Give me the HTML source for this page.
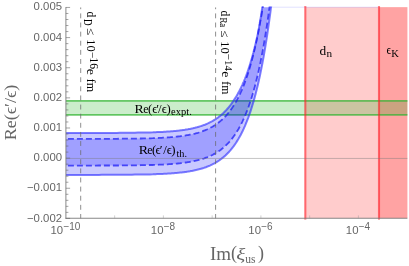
<!DOCTYPE html>
<html><head><meta charset="utf-8"><style>
html,body{margin:0;padding:0;background:#fff;}
body{width:409px;height:266px;overflow:hidden;}
svg{display:block;will-change:transform;}
text{font-family:"Liberation Sans",sans-serif;}
.se,.se text{font-family:"Liberation Serif",serif;}
</style></head><body>
<svg width="409" height="266" viewBox="0 0 409 266">
<rect width="409" height="266" fill="#fff"/>
<defs><clipPath id="cp"><rect x="65.90" y="7.15" width="341.50" height="211.05"/></clipPath>
<clipPath id="cp2"><rect x="65.90" y="6.55" width="341.50" height="211.85"/></clipPath></defs>
<!-- red regions -->
<rect x="305.30" y="7.15" width="102.10" height="211.05" fill="rgba(255,0,0,0.2)"/>
<rect x="379.00" y="7.15" width="28.40" height="211.05" fill="rgba(255,0,0,0.2)"/>
<!-- green band -->
<rect x="65.90" y="100.8" width="341.50" height="14.1" fill="rgba(0,165,0,0.205)"/>
<line x1="65.90" y1="100.8" x2="407.40" y2="100.8" stroke="rgba(50,180,50,0.72)" stroke-width="1.8"/>
<line x1="65.90" y1="114.8" x2="407.40" y2="114.8" stroke="rgba(50,180,50,0.72)" stroke-width="1.8"/>
<!-- blue bands -->
<g clip-path="url(#cp)">
<path d="M65.9,133.0 68.9,133.0 71.9,133.0 74.9,133.0 77.9,133.0 80.9,133.0 83.9,133.0 86.9,133.0 89.9,133.0 92.9,133.0 95.9,133.0 98.9,132.9 101.9,132.9 104.9,132.9 107.9,132.9 110.9,132.9 113.9,132.9 116.9,132.9 119.9,132.8 122.9,132.8 125.9,132.8 128.9,132.8 131.9,132.7 134.9,132.7 137.9,132.6 140.9,132.6 143.9,132.5 146.9,132.5 149.9,132.4 152.9,132.3 153.9,132.2 154.9,132.2 155.9,132.2 156.9,132.1 157.9,132.1 158.9,132.0 159.9,132.0 160.9,132.0 161.9,131.9 162.9,131.9 163.9,131.8 164.9,131.7 165.9,131.7 166.9,131.6 167.9,131.5 168.9,131.5 169.9,131.4 170.9,131.3 171.9,131.2 172.9,131.2 173.9,131.1 174.9,131.0 175.9,130.9 176.9,130.8 177.9,130.7 178.9,130.6 179.9,130.4 180.9,130.3 181.9,130.2 182.9,130.0 183.9,129.9 184.9,129.8 185.9,129.6 186.9,129.4 187.9,129.3 188.9,129.1 189.9,128.9 190.9,128.7 191.9,128.5 192.9,128.3 193.9,128.0 194.9,127.8 195.9,127.5 196.9,127.3 197.9,127.0 198.9,126.7 199.9,126.4 200.9,126.1 201.9,125.8 202.9,125.4 203.9,125.0 204.9,124.7 205.9,124.3 206.9,123.8 207.9,123.4 208.9,122.9 209.9,122.4 210.9,121.9 211.9,121.4 212.9,120.8 213.9,120.2 214.9,119.6 215.9,119.0 216.4,118.6 216.9,118.3 217.4,117.9 217.9,117.6 218.4,117.2 218.9,116.8 219.4,116.4 219.9,116.1 220.4,115.6 220.9,115.2 221.4,114.8 221.9,114.4 222.4,113.9 222.9,113.5 223.4,113.0 223.9,112.5 224.4,112.0 224.9,111.5 225.4,111.0 225.9,110.5 226.4,110.0 226.9,109.4 227.4,108.8 227.9,108.3 228.4,107.7 228.9,107.1 229.4,106.5 229.9,105.8 230.4,105.2 230.9,104.5 231.4,103.8 231.9,103.1 232.4,102.4 232.9,101.7 233.4,100.9 233.9,100.2 234.4,99.4 234.9,98.6 235.4,97.8 236.0,96.9 236.5,96.1 237.0,95.2 237.5,94.3 238.0,93.3 238.6,92.4 239.1,91.4 239.6,90.4 240.1,89.4 240.6,88.4 241.2,87.3 241.7,86.2 242.2,85.1 242.7,83.9 243.2,82.8 243.8,81.6 244.3,80.3 244.8,79.1 245.3,77.8 245.9,76.5 246.4,75.1 246.9,73.7 247.4,72.3 247.9,70.9 248.4,69.4 248.9,67.9 249.4,66.3 249.9,64.7 250.4,63.1 250.9,61.4 251.4,59.7 251.9,58.0 252.4,56.2 252.9,54.3 253.4,52.5 253.9,50.5 254.4,48.6 254.9,46.5 255.4,44.5 255.9,42.4 256.4,40.2 256.9,38.0 257.4,35.7 257.9,33.4 258.3,31.0 258.8,28.6 259.2,26.1 259.7,23.5 260.1,20.9 260.6,18.2 261.1,15.5 261.5,12.7 261.9,9.8 262.4,6.8 262.9,3.8 263.4,0.7 263.9,-2.4 264.4,-5.7 264.9,-9.0 265.4,-12.4 265.9,-15.8 266.4,-19.4 266.9,-23.0 L274.9,-26.5 274.4,-21.8 273.9,-17.2 273.4,-12.7 272.9,-8.4 272.4,-4.1 271.9,0.1 271.4,4.2 270.9,8.2 270.4,12.1 269.9,15.9 269.4,19.6 268.9,23.2 268.4,26.7 267.9,30.2 267.4,33.6 266.9,36.9 266.4,40.1 265.9,43.2 265.4,46.3 264.9,49.3 264.4,52.2 263.9,55.1 263.4,57.9 262.9,60.6 262.4,63.3 261.9,65.9 261.4,68.4 260.9,70.9 260.4,73.4 259.9,75.7 259.4,78.0 258.9,80.3 258.4,82.5 257.9,84.7 257.4,86.8 256.9,88.8 256.4,90.8 255.9,92.8 255.4,94.7 254.9,96.6 254.4,98.4 253.9,100.2 253.4,101.9 252.9,103.6 252.4,105.3 251.9,106.9 251.4,108.5 250.9,110.1 250.4,111.6 249.9,113.1 249.4,114.5 248.9,115.9 248.4,117.3 247.9,118.6 247.4,119.9 246.9,121.2 246.4,122.5 245.9,123.7 245.4,124.9 244.9,126.1 244.4,127.2 243.9,128.3 243.4,129.4 242.9,130.5 242.4,131.5 241.9,132.5 241.4,133.5 240.9,134.5 240.4,135.4 239.9,136.3 239.4,137.2 238.9,138.1 238.4,139.0 237.9,139.8 237.4,140.6 236.9,141.4 236.4,142.2 235.9,143.0 235.4,143.7 234.9,144.5 234.4,145.2 233.9,145.9 233.4,146.5 232.9,147.2 232.4,147.8 231.9,148.5 231.4,149.1 230.9,149.7 230.4,150.3 229.9,150.9 229.4,151.4 228.9,152.0 228.4,152.5 227.9,153.0 227.4,153.5 226.9,154.0 226.4,154.5 225.9,155.0 225.4,155.5 224.9,155.9 224.4,156.4 223.9,156.8 223.4,157.2 222.9,157.6 222.4,158.0 221.9,158.4 221.4,158.8 220.9,159.2 220.4,159.5 219.9,159.9 219.4,160.3 218.9,160.6 218.4,160.9 217.9,161.3 217.4,161.6 216.9,161.9 216.4,162.2 215.9,162.5 214.9,163.1 213.9,163.6 212.9,164.1 211.9,164.6 210.9,165.1 209.9,165.6 208.9,166.0 207.9,166.4 206.9,166.8 205.9,167.2 204.9,167.5 203.9,167.9 202.9,168.2 201.9,168.5 200.9,168.8 199.9,169.1 198.9,169.3 197.9,169.6 196.9,169.8 195.9,170.1 194.9,170.3 193.9,170.5 192.9,170.7 191.9,170.9 190.9,171.1 189.9,171.3 188.9,171.4 187.9,171.6 186.9,171.7 185.9,171.9 184.9,172.0 183.9,172.2 182.9,172.3 181.9,172.4 180.9,172.5 179.9,172.6 178.9,172.7 177.9,172.8 176.9,172.9 175.9,173.0 174.9,173.1 173.9,173.2 172.9,173.3 171.9,173.3 170.9,173.4 169.9,173.5 168.9,173.6 167.9,173.6 166.9,173.7 165.9,173.7 164.9,173.8 163.9,173.8 162.9,173.9 161.9,173.9 160.9,174.0 159.9,174.0 158.9,174.1 157.9,174.1 156.9,174.1 155.9,174.2 154.9,174.2 153.9,174.2 152.9,174.3 149.9,174.4 146.9,174.4 143.9,174.5 140.9,174.5 137.9,174.6 134.9,174.6 131.9,174.7 128.9,174.7 125.9,174.7 122.9,174.7 119.9,174.8 116.9,174.8 113.9,174.8 110.9,174.8 107.9,174.8 104.9,174.8 101.9,174.8 98.9,174.9 95.9,174.9 92.9,174.9 89.9,174.9 86.9,174.9 83.9,174.9 80.9,174.9 77.9,174.9 74.9,174.9 71.9,174.9 68.9,174.9 65.9,174.9 Z" fill="rgba(0,0,255,0.21)"/>
<path d="M65.9,138.9 68.9,138.9 71.9,138.9 74.9,138.9 77.9,138.9 80.9,138.9 83.9,138.9 86.9,138.9 89.9,138.9 92.9,138.9 95.9,138.9 98.9,138.8 101.9,138.8 104.9,138.8 107.9,138.8 110.9,138.8 113.9,138.8 116.9,138.8 119.9,138.7 122.9,138.7 125.9,138.7 128.9,138.7 131.9,138.6 134.9,138.6 137.9,138.5 140.9,138.5 143.9,138.4 146.9,138.3 149.9,138.3 152.9,138.2 153.9,138.1 154.9,138.1 155.9,138.1 156.9,138.0 157.9,138.0 158.9,137.9 159.9,137.9 160.9,137.8 161.9,137.8 162.9,137.7 163.9,137.7 164.9,137.6 165.9,137.5 166.9,137.5 167.9,137.4 168.9,137.3 169.9,137.3 170.9,137.2 171.9,137.1 172.9,137.0 173.9,136.9 174.9,136.8 175.9,136.7 176.9,136.6 177.9,136.5 178.9,136.4 179.9,136.3 180.9,136.1 181.9,136.0 182.9,135.9 183.9,135.7 184.9,135.6 185.9,135.4 186.9,135.2 187.9,135.1 188.9,134.9 189.9,134.7 190.9,134.5 191.9,134.3 192.9,134.0 193.9,133.8 194.9,133.6 195.9,133.3 196.9,133.0 197.9,132.8 198.9,132.5 199.9,132.1 200.9,131.8 201.9,131.5 202.9,131.1 203.9,130.7 204.9,130.3 205.9,129.9 206.9,129.5 207.9,129.0 208.9,128.6 209.9,128.1 210.9,127.5 211.9,127.0 212.9,126.4 213.9,125.8 214.9,125.2 215.9,124.5 216.4,124.2 216.9,123.8 217.4,123.5 217.9,123.1 218.4,122.7 218.9,122.3 219.4,121.9 219.9,121.5 220.4,121.1 220.9,120.7 221.4,120.2 221.9,119.8 222.4,119.3 222.9,118.9 223.4,118.4 223.9,117.9 224.4,117.4 224.9,116.9 225.4,116.4 225.9,115.8 226.4,115.3 226.9,114.7 227.4,114.1 227.9,113.5 228.4,112.9 228.9,112.3 229.4,111.7 229.9,111.0 230.4,110.4 230.9,109.7 231.4,109.0 231.9,108.3 232.4,107.5 232.9,106.8 233.4,106.0 233.9,105.2 234.4,104.4 234.9,103.6 235.4,102.8 235.9,101.9 236.4,101.0 236.9,100.1 237.4,99.2 237.9,98.2 238.4,97.3 238.9,96.3 239.4,95.2 239.9,94.2 240.4,93.1 240.9,92.0 241.4,90.9 241.9,89.8 242.4,88.6 242.9,87.4 243.4,86.2 243.9,84.9 244.4,83.6 244.9,82.3 245.4,80.9 245.9,79.5 246.4,78.1 246.9,76.7 247.4,75.2 247.9,73.7 248.4,72.1 248.9,70.5 249.4,68.9 249.9,67.2 250.4,65.5 250.9,63.7 251.4,61.9 251.9,60.1 252.4,58.2 252.9,56.3 253.4,54.3 253.9,52.3 254.4,50.2 254.9,48.1 255.4,45.9 255.9,43.7 256.4,41.4 256.9,39.1 257.4,36.7 257.9,34.3 258.4,31.8 258.9,29.2 259.4,26.6 259.9,23.9 260.4,21.2 260.9,18.4 261.4,15.5 261.9,12.5 262.4,9.5 262.9,6.4 263.4,3.2 263.9,0.0 264.4,-3.3 264.9,-6.7 265.4,-10.2 265.9,-13.8 266.4,-17.4 266.9,-21.1 267.4,-25.0 L273.4,-24.8 272.9,-20.3 272.4,-16.0 271.9,-11.7 271.4,-7.6 270.9,-3.6 270.4,0.4 269.9,4.3 269.4,8.0 268.9,11.7 268.4,15.3 267.9,18.8 267.4,22.2 266.9,25.6 266.4,28.8 265.9,32.0 265.4,35.1 264.9,38.2 264.4,41.2 263.9,44.1 263.4,46.9 262.9,49.7 262.4,52.4 261.9,55.0 261.4,57.6 260.9,60.1 260.4,62.6 259.9,65.0 259.4,67.3 258.9,69.6 258.4,71.9 257.9,74.1 257.4,76.2 256.9,78.3 256.4,80.3 255.9,82.3 255.4,84.3 254.9,86.2 254.4,88.0 253.9,89.8 253.4,91.6 252.9,93.3 252.4,95.0 251.9,96.7 251.4,98.3 250.9,99.8 250.4,101.4 249.9,102.9 249.4,104.3 248.9,105.8 248.4,107.2 247.9,108.5 247.4,109.9 246.9,111.2 246.4,112.4 245.9,113.7 245.4,114.9 244.9,116.1 244.4,117.2 243.9,118.3 243.4,119.4 242.9,120.5 242.4,121.6 241.9,122.6 241.4,123.6 240.9,124.6 240.4,125.5 239.9,126.5 239.4,127.4 238.9,128.3 238.4,129.2 237.9,130.0 237.4,130.8 236.9,131.6 236.4,132.4 235.9,133.2 235.4,134.0 234.9,134.7 234.4,135.4 233.9,136.1 233.4,136.8 232.9,137.5 232.4,138.2 231.9,138.8 231.4,139.4 230.9,140.0 230.4,140.6 229.9,141.2 229.4,141.8 228.9,142.3 228.4,142.9 227.9,143.4 227.4,143.9 226.9,144.4 226.4,144.9 225.9,145.4 225.4,145.9 224.9,146.3 224.4,146.8 223.9,147.2 223.4,147.7 222.9,148.1 222.4,148.5 221.9,148.9 221.4,149.3 220.9,149.7 220.4,150.0 219.9,150.4 219.4,150.7 218.9,151.1 218.4,151.4 217.9,151.8 217.4,152.1 216.9,152.4 216.4,152.7 215.9,153.0 214.9,153.6 213.9,154.1 212.9,154.7 211.9,155.2 210.9,155.7 209.9,156.1 208.9,156.6 207.9,157.0 206.9,157.4 205.9,157.7 204.9,158.1 203.9,158.5 202.9,158.8 201.9,159.1 200.9,159.4 199.9,159.7 198.9,160.0 197.9,160.2 196.9,160.5 195.9,160.7 194.9,160.9 193.9,161.1 192.9,161.4 191.9,161.5 190.9,161.7 189.9,161.9 188.9,162.1 187.9,162.2 186.9,162.4 185.9,162.5 184.9,162.7 183.9,162.8 182.9,163.0 181.9,163.1 180.9,163.2 179.9,163.3 178.9,163.4 177.9,163.5 176.9,163.6 175.9,163.7 174.9,163.8 173.9,163.9 172.9,163.9 171.9,164.0 170.9,164.1 169.9,164.2 168.9,164.2 167.9,164.3 166.9,164.4 165.9,164.4 164.9,164.5 163.9,164.5 162.9,164.6 161.9,164.6 160.9,164.7 159.9,164.7 158.9,164.7 157.9,164.8 156.9,164.8 155.9,164.9 154.9,164.9 153.9,164.9 152.9,165.0 149.9,165.0 146.9,165.1 143.9,165.2 140.9,165.2 137.9,165.3 134.9,165.3 131.9,165.4 128.9,165.4 125.9,165.4 122.9,165.4 119.9,165.5 116.9,165.5 113.9,165.5 110.9,165.5 107.9,165.5 104.9,165.5 101.9,165.5 98.9,165.5 95.9,165.6 92.9,165.6 89.9,165.6 86.9,165.6 83.9,165.6 80.9,165.6 77.9,165.6 74.9,165.6 71.9,165.6 68.9,165.6 65.9,165.6 Z" fill="rgba(0,0,255,0.20)"/>
</g>
<g clip-path="url(#cp2)" fill="none">
<path d="M65.9,133.0 68.9,133.0 71.9,133.0 74.9,133.0 77.9,133.0 80.9,133.0 83.9,133.0 86.9,133.0 89.9,133.0 92.9,133.0 95.9,133.0 98.9,132.9 101.9,132.9 104.9,132.9 107.9,132.9 110.9,132.9 113.9,132.9 116.9,132.9 119.9,132.8 122.9,132.8 125.9,132.8 128.9,132.8 131.9,132.7 134.9,132.7 137.9,132.6 140.9,132.6 143.9,132.5 146.9,132.5 149.9,132.4 152.9,132.3 153.9,132.2 154.9,132.2 155.9,132.2 156.9,132.1 157.9,132.1 158.9,132.0 159.9,132.0 160.9,132.0 161.9,131.9 162.9,131.9 163.9,131.8 164.9,131.7 165.9,131.7 166.9,131.6 167.9,131.5 168.9,131.5 169.9,131.4 170.9,131.3 171.9,131.2 172.9,131.2 173.9,131.1 174.9,131.0 175.9,130.9 176.9,130.8 177.9,130.7 178.9,130.6 179.9,130.4 180.9,130.3 181.9,130.2 182.9,130.0 183.9,129.9 184.9,129.8 185.9,129.6 186.9,129.4 187.9,129.3 188.9,129.1 189.9,128.9 190.9,128.7 191.9,128.5 192.9,128.3 193.9,128.0 194.9,127.8 195.9,127.5 196.9,127.3 197.9,127.0 198.9,126.7 199.9,126.4 200.9,126.1 201.9,125.8 202.9,125.4 203.9,125.0 204.9,124.7 205.9,124.3 206.9,123.8 207.9,123.4 208.9,122.9 209.9,122.4 210.9,121.9 211.9,121.4 212.9,120.8 213.9,120.2 214.9,119.6 215.9,119.0 216.4,118.6 216.9,118.3 217.4,117.9 217.9,117.6 218.4,117.2 218.9,116.8 219.4,116.4 219.9,116.1 220.4,115.6 220.9,115.2 221.4,114.8 221.9,114.4 222.4,113.9 222.9,113.5 223.4,113.0 223.9,112.5 224.4,112.0 224.9,111.5 225.4,111.0 225.9,110.5 226.4,110.0 226.9,109.4 227.4,108.8 227.9,108.3 228.4,107.7 228.9,107.1 229.4,106.5 229.9,105.8 230.4,105.2 230.9,104.5 231.4,103.8 231.9,103.1 232.4,102.4 232.9,101.7 233.4,100.9 233.9,100.2 234.4,99.4 234.9,98.6 235.4,97.8 236.0,96.9 236.5,96.1 237.0,95.2 237.5,94.3 238.0,93.3 238.6,92.4 239.1,91.4 239.6,90.4 240.1,89.4 240.6,88.4 241.2,87.3 241.7,86.2 242.2,85.1 242.7,83.9 243.2,82.8 243.8,81.6 244.3,80.3 244.8,79.1 245.3,77.8 245.9,76.5 246.4,75.1 246.9,73.7 247.4,72.3 247.9,70.9 248.4,69.4 248.9,67.9 249.4,66.3 249.9,64.7 250.4,63.1 250.9,61.4 251.4,59.7 251.9,58.0 252.4,56.2 252.9,54.3 253.4,52.5 253.9,50.5 254.4,48.6 254.9,46.5 255.4,44.5 255.9,42.4 256.4,40.2 256.9,38.0 257.4,35.7 257.9,33.4 258.3,31.0 258.8,28.6 259.2,26.1 259.7,23.5 260.1,20.9 260.6,18.2 261.1,15.5 261.5,12.7 261.9,9.8 262.4,6.8 262.9,3.8 263.4,0.7 263.9,-2.4 264.4,-5.7 264.9,-9.0 265.4,-12.4 265.9,-15.8 266.4,-19.4 266.9,-23.0" stroke="rgba(45,45,255,0.62)" stroke-width="2"/>
<path d="M65.9,174.9 68.9,174.9 71.9,174.9 74.9,174.9 77.9,174.9 80.9,174.9 83.9,174.9 86.9,174.9 89.9,174.9 92.9,174.9 95.9,174.9 98.9,174.9 101.9,174.8 104.9,174.8 107.9,174.8 110.9,174.8 113.9,174.8 116.9,174.8 119.9,174.8 122.9,174.7 125.9,174.7 128.9,174.7 131.9,174.7 134.9,174.6 137.9,174.6 140.9,174.5 143.9,174.5 146.9,174.4 149.9,174.4 152.9,174.3 153.9,174.2 154.9,174.2 155.9,174.2 156.9,174.1 157.9,174.1 158.9,174.1 159.9,174.0 160.9,174.0 161.9,173.9 162.9,173.9 163.9,173.8 164.9,173.8 165.9,173.7 166.9,173.7 167.9,173.6 168.9,173.6 169.9,173.5 170.9,173.4 171.9,173.3 172.9,173.3 173.9,173.2 174.9,173.1 175.9,173.0 176.9,172.9 177.9,172.8 178.9,172.7 179.9,172.6 180.9,172.5 181.9,172.4 182.9,172.3 183.9,172.2 184.9,172.0 185.9,171.9 186.9,171.7 187.9,171.6 188.9,171.4 189.9,171.3 190.9,171.1 191.9,170.9 192.9,170.7 193.9,170.5 194.9,170.3 195.9,170.1 196.9,169.8 197.9,169.6 198.9,169.3 199.9,169.1 200.9,168.8 201.9,168.5 202.9,168.2 203.9,167.9 204.9,167.5 205.9,167.2 206.9,166.8 207.9,166.4 208.9,166.0 209.9,165.6 210.9,165.1 211.9,164.6 212.9,164.1 213.9,163.6 214.9,163.1 215.9,162.5 216.4,162.2 216.9,161.9 217.4,161.6 217.9,161.3 218.4,160.9 218.9,160.6 219.4,160.3 219.9,159.9 220.4,159.5 220.9,159.2 221.4,158.8 221.9,158.4 222.4,158.0 222.9,157.6 223.4,157.2 223.9,156.8 224.4,156.4 224.9,155.9 225.4,155.5 225.9,155.0 226.4,154.5 226.9,154.0 227.4,153.5 227.9,153.0 228.4,152.5 228.9,152.0 229.4,151.4 229.9,150.9 230.4,150.3 230.9,149.7 231.4,149.1 231.9,148.5 232.4,147.8 232.9,147.2 233.4,146.5 233.9,145.9 234.4,145.2 234.9,144.5 235.4,143.7 235.9,143.0 236.4,142.2 236.9,141.4 237.4,140.6 237.9,139.8 238.4,139.0 238.9,138.1 239.4,137.2 239.9,136.3 240.4,135.4 240.9,134.5 241.4,133.5 241.9,132.5 242.4,131.5 242.9,130.5 243.4,129.4 243.9,128.3 244.4,127.2 244.9,126.1 245.4,124.9 245.9,123.7 246.4,122.5 246.9,121.2 247.4,119.9 247.9,118.6 248.4,117.3 248.9,115.9 249.4,114.5 249.9,113.1 250.4,111.6 250.9,110.1 251.4,108.5 251.9,106.9 252.4,105.3 252.9,103.6 253.4,101.9 253.9,100.2 254.4,98.4 254.9,96.6 255.4,94.7 255.9,92.8 256.4,90.8 256.9,88.8 257.4,86.8 257.9,84.7 258.4,82.5 258.9,80.3 259.4,78.0 259.9,75.7 260.4,73.4 260.9,70.9 261.4,68.4 261.9,65.9 262.4,63.3 262.9,60.6 263.4,57.9 263.9,55.1 264.4,52.2 264.9,49.3 265.4,46.3 265.9,43.2 266.4,40.1 266.9,36.9 267.4,33.6 267.9,30.2 268.4,26.7 268.9,23.2 269.4,19.6 269.9,15.9 270.4,12.1 270.9,8.2 271.4,4.2 271.9,0.1 272.4,-4.1 272.9,-8.4 273.4,-12.7 273.9,-17.2 274.4,-21.8 274.9,-26.5" stroke="rgba(45,45,255,0.62)" stroke-width="2"/>
<path d="M65.9,138.9 68.9,138.9 71.9,138.9 74.9,138.9 77.9,138.9 80.9,138.9 83.9,138.9 86.9,138.9 89.9,138.9 92.9,138.9 95.9,138.9 98.9,138.8 101.9,138.8 104.9,138.8 107.9,138.8 110.9,138.8 113.9,138.8 116.9,138.8 119.9,138.7 122.9,138.7 125.9,138.7 128.9,138.7 131.9,138.6 134.9,138.6 137.9,138.5 140.9,138.5 143.9,138.4 146.9,138.3 149.9,138.3 152.9,138.2 153.9,138.1 154.9,138.1 155.9,138.1 156.9,138.0 157.9,138.0 158.9,137.9 159.9,137.9 160.9,137.8 161.9,137.8 162.9,137.7 163.9,137.7 164.9,137.6 165.9,137.5 166.9,137.5 167.9,137.4 168.9,137.3 169.9,137.3 170.9,137.2 171.9,137.1 172.9,137.0 173.9,136.9 174.9,136.8 175.9,136.7 176.9,136.6 177.9,136.5 178.9,136.4 179.9,136.3 180.9,136.1 181.9,136.0 182.9,135.9 183.9,135.7 184.9,135.6 185.9,135.4 186.9,135.2 187.9,135.1 188.9,134.9 189.9,134.7 190.9,134.5 191.9,134.3 192.9,134.0 193.9,133.8 194.9,133.6 195.9,133.3 196.9,133.0 197.9,132.8 198.9,132.5 199.9,132.1 200.9,131.8 201.9,131.5 202.9,131.1 203.9,130.7 204.9,130.3 205.9,129.9 206.9,129.5 207.9,129.0 208.9,128.6 209.9,128.1 210.9,127.5 211.9,127.0 212.9,126.4 213.9,125.8 214.9,125.2 215.9,124.5 216.4,124.2 216.9,123.8 217.4,123.5 217.9,123.1 218.4,122.7 218.9,122.3 219.4,121.9 219.9,121.5 220.4,121.1 220.9,120.7 221.4,120.2 221.9,119.8 222.4,119.3 222.9,118.9 223.4,118.4 223.9,117.9 224.4,117.4 224.9,116.9 225.4,116.4 225.9,115.8 226.4,115.3 226.9,114.7 227.4,114.1 227.9,113.5 228.4,112.9 228.9,112.3 229.4,111.7 229.9,111.0 230.4,110.4 230.9,109.7 231.4,109.0 231.9,108.3 232.4,107.5 232.9,106.8 233.4,106.0 233.9,105.2 234.4,104.4 234.9,103.6 235.4,102.8 235.9,101.9 236.4,101.0 236.9,100.1 237.4,99.2 237.9,98.2 238.4,97.3 238.9,96.3 239.4,95.2 239.9,94.2 240.4,93.1 240.9,92.0 241.4,90.9 241.9,89.8 242.4,88.6 242.9,87.4 243.4,86.2 243.9,84.9 244.4,83.6 244.9,82.3 245.4,80.9 245.9,79.5 246.4,78.1 246.9,76.7 247.4,75.2 247.9,73.7 248.4,72.1 248.9,70.5 249.4,68.9 249.9,67.2 250.4,65.5 250.9,63.7 251.4,61.9 251.9,60.1 252.4,58.2 252.9,56.3 253.4,54.3 253.9,52.3 254.4,50.2 254.9,48.1 255.4,45.9 255.9,43.7 256.4,41.4 256.9,39.1 257.4,36.7 257.9,34.3 258.4,31.8 258.9,29.2 259.4,26.6 259.9,23.9 260.4,21.2 260.9,18.4 261.4,15.5 261.9,12.5 262.4,9.5 262.9,6.4 263.4,3.2 263.9,0.0 264.4,-3.3 264.9,-6.7 265.4,-10.2 265.9,-13.8 266.4,-17.4 266.9,-21.1 267.4,-25.0" stroke="rgba(30,30,245,0.74)" stroke-width="1.8" stroke-dasharray="6 3" stroke-dashoffset="7"/>
<path d="M65.9,165.6 68.9,165.6 71.9,165.6 74.9,165.6 77.9,165.6 80.9,165.6 83.9,165.6 86.9,165.6 89.9,165.6 92.9,165.6 95.9,165.6 98.9,165.5 101.9,165.5 104.9,165.5 107.9,165.5 110.9,165.5 113.9,165.5 116.9,165.5 119.9,165.5 122.9,165.4 125.9,165.4 128.9,165.4 131.9,165.4 134.9,165.3 137.9,165.3 140.9,165.2 143.9,165.2 146.9,165.1 149.9,165.0 152.9,165.0 153.9,164.9 154.9,164.9 155.9,164.9 156.9,164.8 157.9,164.8 158.9,164.7 159.9,164.7 160.9,164.7 161.9,164.6 162.9,164.6 163.9,164.5 164.9,164.5 165.9,164.4 166.9,164.4 167.9,164.3 168.9,164.2 169.9,164.2 170.9,164.1 171.9,164.0 172.9,163.9 173.9,163.9 174.9,163.8 175.9,163.7 176.9,163.6 177.9,163.5 178.9,163.4 179.9,163.3 180.9,163.2 181.9,163.1 182.9,163.0 183.9,162.8 184.9,162.7 185.9,162.5 186.9,162.4 187.9,162.2 188.9,162.1 189.9,161.9 190.9,161.7 191.9,161.5 192.9,161.4 193.9,161.1 194.9,160.9 195.9,160.7 196.9,160.5 197.9,160.2 198.9,160.0 199.9,159.7 200.9,159.4 201.9,159.1 202.9,158.8 203.9,158.5 204.9,158.1 205.9,157.7 206.9,157.4 207.9,157.0 208.9,156.6 209.9,156.1 210.9,155.7 211.9,155.2 212.9,154.7 213.9,154.1 214.9,153.6 215.9,153.0 216.4,152.7 216.9,152.4 217.4,152.1 217.9,151.8 218.4,151.4 218.9,151.1 219.4,150.7 219.9,150.4 220.4,150.0 220.9,149.7 221.4,149.3 221.9,148.9 222.4,148.5 222.9,148.1 223.4,147.7 223.9,147.2 224.4,146.8 224.9,146.3 225.4,145.9 225.9,145.4 226.4,144.9 226.9,144.4 227.4,143.9 227.9,143.4 228.4,142.9 228.9,142.3 229.4,141.8 229.9,141.2 230.4,140.6 230.9,140.0 231.4,139.4 231.9,138.8 232.4,138.2 232.9,137.5 233.4,136.8 233.9,136.1 234.4,135.4 234.9,134.7 235.4,134.0 235.9,133.2 236.4,132.4 236.9,131.6 237.4,130.8 237.9,130.0 238.4,129.2 238.9,128.3 239.4,127.4 239.9,126.5 240.4,125.5 240.9,124.6 241.4,123.6 241.9,122.6 242.4,121.6 242.9,120.5 243.4,119.4 243.9,118.3 244.4,117.2 244.9,116.1 245.4,114.9 245.9,113.7 246.4,112.4 246.9,111.2 247.4,109.9 247.9,108.5 248.4,107.2 248.9,105.8 249.4,104.3 249.9,102.9 250.4,101.4 250.9,99.8 251.4,98.3 251.9,96.7 252.4,95.0 252.9,93.3 253.4,91.6 253.9,89.8 254.4,88.0 254.9,86.2 255.4,84.3 255.9,82.3 256.4,80.3 256.9,78.3 257.4,76.2 257.9,74.1 258.4,71.9 258.9,69.6 259.4,67.3 259.9,65.0 260.4,62.6 260.9,60.1 261.4,57.6 261.9,55.0 262.4,52.4 262.9,49.7 263.4,46.9 263.9,44.1 264.4,41.2 264.9,38.2 265.4,35.1 265.9,32.0 266.4,28.8 266.9,25.6 267.4,22.2 267.9,18.8 268.4,15.3 268.9,11.7 269.4,8.0 269.9,4.3 270.4,0.4 270.9,-3.6 271.4,-7.6 271.9,-11.7 272.4,-16.0 272.9,-20.3 273.4,-24.8" stroke="rgba(30,30,245,0.74)" stroke-width="1.8" stroke-dasharray="6 3" stroke-dashoffset="7"/>
</g>
<line x1="271" y1="7.2" x2="378" y2="7.2" stroke="rgba(0,0,255,0.12)" stroke-width="1"/>
<!-- red lines -->
<line x1="305.30" y1="6.1" x2="305.30" y2="219.6" stroke="rgba(255,30,40,0.62)" stroke-width="2.1"/>
<line x1="379.00" y1="6.1" x2="379.00" y2="219.6" stroke="rgba(255,30,40,0.62)" stroke-width="2.1"/>
<!-- zero line -->
<line x1="65.90" y1="158.43" x2="407.40" y2="158.43" stroke="rgba(120,120,120,0.55)" stroke-width="0.8"/>
<!-- dashed verticals -->
<line x1="80.7" y1="7.45" x2="80.7" y2="218.40" stroke="#6a6a6a" stroke-width="0.75" stroke-dasharray="4.9 4.217" stroke-dashoffset="3.15"/>
<line x1="215.6" y1="7.45" x2="215.6" y2="218.40" stroke="#6a6a6a" stroke-width="0.75" stroke-dasharray="4.9 4.217" stroke-dashoffset="3.15"/>
<!-- axes -->
<g stroke="#7a7a7a" stroke-width="0.9" fill="none">
<line x1="65.90" y1="7.15" x2="65.90" y2="218.70"/>
<line x1="65.45" y1="218.25" x2="407.40" y2="218.25"/>
</g>
<g stroke="#666" stroke-width="0.6"><line x1="65.90" y1="218.40" x2="70.10" y2="218.40"/><line x1="65.90" y1="212.37" x2="68.40" y2="212.37"/><line x1="65.90" y1="206.35" x2="68.40" y2="206.35"/><line x1="65.90" y1="200.32" x2="68.40" y2="200.32"/><line x1="65.90" y1="194.29" x2="68.40" y2="194.29"/><line x1="65.90" y1="188.26" x2="70.10" y2="188.26"/><line x1="65.90" y1="182.24" x2="68.40" y2="182.24"/><line x1="65.90" y1="176.21" x2="68.40" y2="176.21"/><line x1="65.90" y1="170.18" x2="68.40" y2="170.18"/><line x1="65.90" y1="164.16" x2="68.40" y2="164.16"/><line x1="65.90" y1="158.13" x2="70.10" y2="158.13"/><line x1="65.90" y1="152.10" x2="68.40" y2="152.10"/><line x1="65.90" y1="146.07" x2="68.40" y2="146.07"/><line x1="65.90" y1="140.05" x2="68.40" y2="140.05"/><line x1="65.90" y1="134.02" x2="68.40" y2="134.02"/><line x1="65.90" y1="127.99" x2="70.10" y2="127.99"/><line x1="65.90" y1="121.97" x2="68.40" y2="121.97"/><line x1="65.90" y1="115.94" x2="68.40" y2="115.94"/><line x1="65.90" y1="109.91" x2="68.40" y2="109.91"/><line x1="65.90" y1="103.88" x2="68.40" y2="103.88"/><line x1="65.90" y1="97.86" x2="70.10" y2="97.86"/><line x1="65.90" y1="91.83" x2="68.40" y2="91.83"/><line x1="65.90" y1="85.80" x2="68.40" y2="85.80"/><line x1="65.90" y1="79.78" x2="68.40" y2="79.78"/><line x1="65.90" y1="73.75" x2="68.40" y2="73.75"/><line x1="65.90" y1="67.72" x2="70.10" y2="67.72"/><line x1="65.90" y1="61.69" x2="68.40" y2="61.69"/><line x1="65.90" y1="55.67" x2="68.40" y2="55.67"/><line x1="65.90" y1="49.64" x2="68.40" y2="49.64"/><line x1="65.90" y1="43.61" x2="68.40" y2="43.61"/><line x1="65.90" y1="37.59" x2="70.10" y2="37.59"/><line x1="65.90" y1="31.56" x2="68.40" y2="31.56"/><line x1="65.90" y1="25.53" x2="68.40" y2="25.53"/><line x1="65.90" y1="19.50" x2="68.40" y2="19.50"/><line x1="65.90" y1="13.48" x2="68.40" y2="13.48"/><line x1="65.90" y1="7.45" x2="70.10" y2="7.45"/></g>
<g stroke="#999" stroke-width="0.45"><line x1="114.65" y1="218.40" x2="114.65" y2="215.40"/><line x1="163.40" y1="218.40" x2="163.40" y2="215.40"/><line x1="212.15" y1="218.40" x2="212.15" y2="215.40"/><line x1="260.90" y1="218.40" x2="260.90" y2="215.40"/><line x1="309.65" y1="218.40" x2="309.65" y2="215.40"/><line x1="358.40" y1="218.40" x2="358.40" y2="215.40"/></g>
<g font-size="11.35" fill="#666"><text x="62.0" y="222" text-anchor="end">&#8722;0.002</text><text x="62.0" y="191" text-anchor="end">&#8722;0.001</text><text x="62.0" y="161" text-anchor="end">0.000</text><text x="62.0" y="131" text-anchor="end">0.001</text><text x="62.0" y="101" text-anchor="end">0.002</text><text x="62.0" y="71" text-anchor="end">0.003</text><text x="62.0" y="41" text-anchor="end">0.004</text><text x="62.0" y="10" text-anchor="end">0.005</text><text x="50.56" y="234.4">10</text><text x="63.48" y="230" font-size="10.0">&#8722;10</text><text x="150.84" y="234.4">10</text><text x="163.76" y="230" font-size="10.0">&#8722;8</text><text x="248.34" y="234.4">10</text><text x="261.26" y="230" font-size="10.0">&#8722;6</text><text x="345.84" y="234.4">10</text><text x="358.76" y="230" font-size="10.0">&#8722;4</text></g>
<!-- axis labels -->
<g class="se" fill="#666">
<text transform="translate(209.91,259.70) scale(1.000,1)" font-size="19.00">Im</text><text transform="translate(231.11,259.30) scale(1.000,1)" font-size="18.00">(</text><text transform="translate(257.92,259.30) scale(1.000,1)" font-size="18.00">)</text>
<text transform="translate(236.2,259.5) scale(1.2,1)" font-size="17.6" font-style="italic">&#958;</text>
<text transform="translate(245.2,263.0) scale(0.92,1)" font-size="12.6">us</text>
<text transform="translate(15.7,140.2) rotate(-90) scale(1.06,1)" font-size="17">Re(&#1013;&#8242;/&#1013;)</text>
</g>
<!-- in-plot labels -->
<g class="se" fill="#000">
<text transform="translate(134.60,112.70) scale(1.080,1)" font-size="12.80">R</text><text transform="translate(143.34,112.70) scale(0.930,1)" font-size="12.80">e</text><text transform="translate(148.04,112.70) scale(1.000,1)" font-size="12.80">(</text><text transform="translate(152.21,112.70) scale(1.000,1)" font-size="12.80">&#1013;</text><text transform="translate(156.27,112.70) scale(1.000,1)" font-size="12.80">&#8242;</text><text transform="translate(158.10,112.70) scale(1.000,1)" font-size="12.80">/</text><text transform="translate(161.81,112.70) scale(1.000,1)" font-size="12.80">&#1013;</text><text transform="translate(166.59,112.70) scale(1.000,1)" font-size="12.80">)</text><text transform="translate(171.09,115.10) scale(1.050,1)" font-size="10.00">expt.</text>
<text transform="translate(138.80,154.00) scale(1.080,1)" font-size="12.80">R</text><text transform="translate(147.23,154.00) scale(0.930,1)" font-size="12.80">e</text><text transform="translate(152.04,154.00) scale(1.000,1)" font-size="12.80">(</text><text transform="translate(155.61,154.00) scale(1.000,1)" font-size="12.80">&#1013;</text><text transform="translate(159.87,154.00) scale(1.000,1)" font-size="12.80">&#8242;</text><text transform="translate(163.20,154.00) scale(1.000,1)" font-size="12.80">/</text><text transform="translate(166.81,154.00) scale(1.000,1)" font-size="12.80">&#1013;</text><text transform="translate(171.19,154.00) scale(1.000,1)" font-size="12.80">)</text><text transform="translate(176.40,157.00) scale(1.050,1)" font-size="9.80">th.</text>
<text transform="translate(319.42,54.50) scale(1.000,1)" font-size="13.40">d</text><text transform="translate(326.44,57.10) scale(1.100,1)" font-size="10.20">n</text>
<text transform="translate(386.56,54.10) scale(1.000,1)" font-size="11.50">&#1013;</text><text transform="translate(391.20,57.10) scale(1.000,1)" font-size="10.50">K</text>
<text transform="translate(87.10,11.57) rotate(90) scale(0.920,1)" font-size="12.80">d</text><text transform="translate(84.30,18.92) rotate(90) scale(0.790,1)" font-size="11.50">D</text><text transform="translate(87.10,28.07) rotate(90) scale(1.150,1)" font-size="11.50">&#8804;</text><text transform="translate(87.10,39.24) rotate(90) scale(1.000,1)" font-size="12.50">10</text><text transform="translate(89.18,51.64) rotate(90) scale(1.000,1)" font-size="11.20">&#8722;</text><text transform="translate(90.30,57.56) rotate(90) scale(1.000,1)" font-size="11.60">16</text><text transform="translate(87.10,68.86) rotate(90) scale(1.120,1)" font-size="12.50">e</text><text transform="translate(87.10,78.63) rotate(90) scale(0.940,1)" font-size="12.80">fm</text>
<text transform="translate(221.40,10.42) rotate(90) scale(0.920,1)" font-size="12.80">d</text><text transform="translate(219.50,17.39) rotate(90) scale(0.880,1)" font-size="10.20">Ra</text><text transform="translate(221.40,30.37) rotate(90) scale(1.150,1)" font-size="11.50">&#8804;</text><text transform="translate(221.40,41.14) rotate(90) scale(1.000,1)" font-size="12.60">10</text><text transform="translate(224.68,53.49) rotate(90) scale(1.000,1)" font-size="11.20">&#8722;</text><text transform="translate(225.40,60.11) rotate(90) scale(1.000,1)" font-size="10.80">14</text><text transform="translate(221.60,71.16) rotate(90) scale(1.120,1)" font-size="12.50">e</text><text transform="translate(221.70,81.37) rotate(90) scale(0.920,1)" font-size="12.80">fm</text>
</g>
</svg>
</body></html>
